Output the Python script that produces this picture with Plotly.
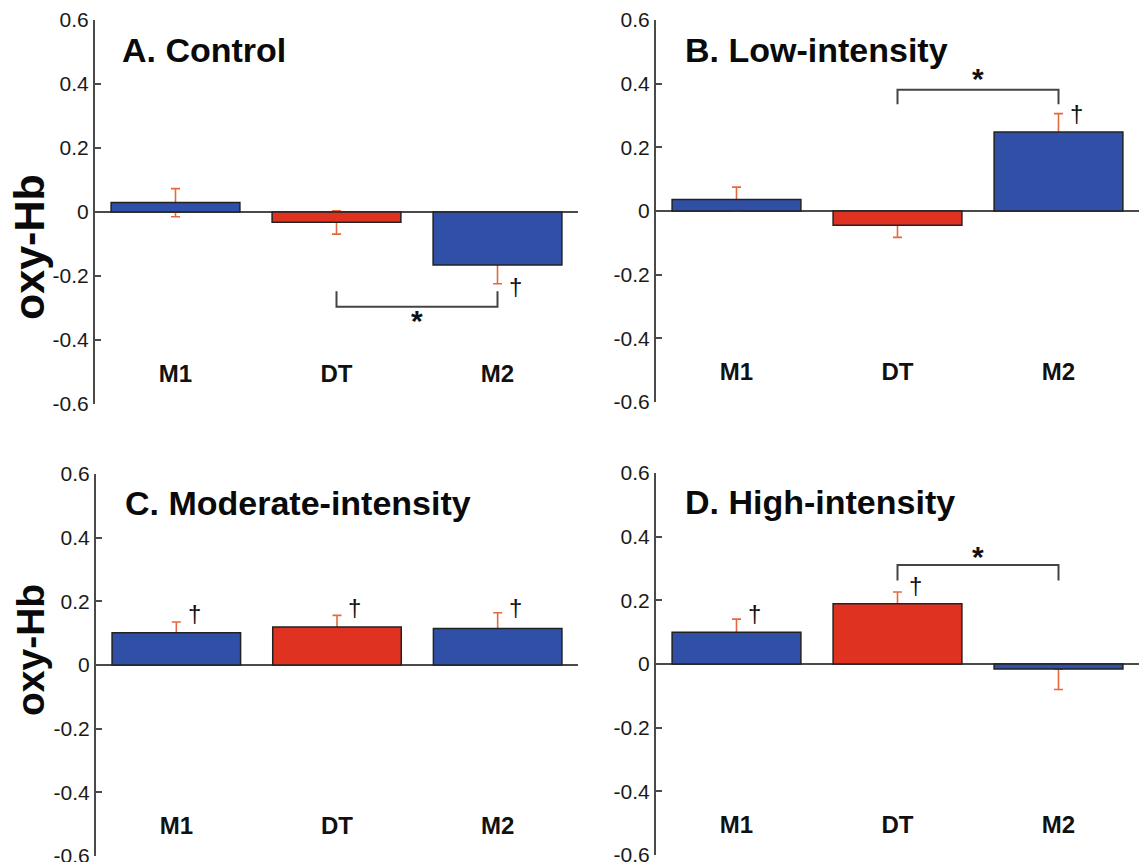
import plotly.graph_objects as go

# ---------------- data ----------------
categories = ["M1", "DT", "M2"]
bar_colors = ["#3050A8", "#E03220", "#3050A8"]

panel_titles = ["A. Control", "B. Low-intensity", "C. Moderate-intensity", "D. High-intensity"]

values_A = [0.030, -0.032, -0.166]
err_up_A = [0.043, 0.036, 0.058]
err_dn_A = [0.045, 0.037, 0.058]

values_B = [0.036, -0.045, 0.248]
err_up_B = [0.039, 0.038, 0.058]
err_dn_B = [0.036, 0.038, 0.058]

values_C = [0.101, 0.119, 0.115]
err_up_C = [0.034, 0.037, 0.049]
err_dn_C = [0.034, 0.037, 0.049]

values_D = [0.100, 0.189, -0.016]
err_up_D = [0.041, 0.037, 0.0]
err_dn_D = [0.041, 0.037, 0.064]

# dagger marks: (category index, y level)
daggers_A = [(2, -0.233)]
daggers_B = [(2, 0.307)]
daggers_C = [(0, 0.162), (1, 0.181), (2, 0.181)]
daggers_D = [(0, 0.159), (1, 0.248)]

# significance brackets: (from idx, to idx, bar level, leg end level, star level)
brackets_A = [(1, 2, -0.296, -0.248, -0.340)]
brackets_B = [(1, 2, 0.381, 0.335, 0.415)]
brackets_C = []
brackets_D = [(1, 2, 0.311, 0.262, 0.337)]

ytick_vals = [-0.6, -0.4, -0.2, 0, 0.2, 0.4, 0.6]
ytick_text = ["-0.6", "-0.4", "-0.2", "0", "0.2", "0.4", "0.6"]
cat_label_level = -0.512
y_label = "oxy-Hb"

# ---------------- layout geometry (pixels in the target picture) ----------------
W, H = 1147, 862
OFF = 8  # page body margin offset
panel_px = [
    dict(x0=95, x1=578, y0=20, y1=404),
    dict(x0=656, x1=1139, y0=20, y1=402),
    dict(x0=96, x1=578, y0=474, y1=856),
    dict(x0=656, x1=1139, y0=473, y1=855),
]
title_px = [(120, 50), (683, 50), (123, 503), (683, 502)]


def fx(p):
    return (p - OFF) / W


def fy(p):
    return 1 - (p - OFF) / H


AXIS_COLOR = "#4a4a4a"
ERR_COLOR = "#E5693F"
FONT = "Liberation Sans, Arial, sans-serif"

panels = [
    (values_A, err_up_A, err_dn_A, daggers_A, brackets_A),
    (values_B, err_up_B, err_dn_B, daggers_B, brackets_B),
    (values_C, err_up_C, err_dn_C, daggers_C, brackets_C),
    (values_D, err_up_D, err_dn_D, daggers_D, brackets_D),
]

fig = go.Figure()
annotations = []
layout_axes = {}

for i, (vals, eup, edn, dags, bracks) in enumerate(panels):
    n = i + 1
    xa = "x" if n == 1 else f"x{n}"
    ya = "y" if n == 1 else f"y{n}"
    # invisible bars carrying the error bars (drawn first -> behind real bars)
    fig.add_trace(go.Bar(
        x=categories, y=vals, xaxis=xa, yaxis=ya,
        marker=dict(color="rgba(0,0,0,0)", line=dict(width=0)),
        error_y=dict(type="data", symmetric=False, array=eup, arrayminus=edn,
                     color=ERR_COLOR, thickness=1.6, width=4.5),
        showlegend=False, hoverinfo="skip"))
    fig.add_trace(go.Bar(
        x=categories, y=vals, xaxis=xa, yaxis=ya,
        marker=dict(color=bar_colors, line=dict(color="#222222", width=1.5)),
        showlegend=False))
    # category labels
    fig.add_trace(go.Scatter(
        x=categories, y=[cat_label_level] * len(categories), xaxis=xa, yaxis=ya,
        mode="text", text=categories,
        textfont=dict(family=FONT, size=24, color="#111111", weight="bold"),
        showlegend=False, hoverinfo="skip"))
    # brackets
    for (a, b, lvl, leg, star) in bracks:
        fig.add_trace(go.Scatter(
            x=[categories[a], categories[a], categories[b], categories[b]],
            y=[leg, lvl, lvl, leg], xaxis=xa, yaxis=ya,
            mode="lines", line=dict(color="#444444", width=2),
            showlegend=False, hoverinfo="skip"))
        annotations.append(dict(
            x=(a + b) / 2, y=star, xref=xa, yref=ya, text="*", showarrow=False,
            font=dict(family=FONT, size=30, color="#111111", weight="bold"),
            xanchor="center", yanchor="middle"))
    for (ci, lvl) in dags:
        annotations.append(dict(
            x=ci + 0.11, y=lvl, xref=xa, yref=ya, text="†", showarrow=False,
            font=dict(family=FONT, size=24, color="#111111"),
            xanchor="center", yanchor="middle"))

    p = panel_px[i]
    xkey = "xaxis" if n == 1 else f"xaxis{n}"
    ykey = "yaxis" if n == 1 else f"yaxis{n}"
    layout_axes[xkey] = dict(
        domain=[fx(p["x0"]), fx(p["x1"])], anchor=ya, range=[-0.5, 2.5],
        showticklabels=False, showline=False, ticks="", showgrid=False, zeroline=False,
        type="category", fixedrange=True, automargin=False)
    layout_axes[ykey] = dict(
        domain=[fy(p["y1"]), fy(p["y0"])], anchor=xa, range=[-0.6, 0.6],
        tickvals=ytick_vals, ticktext=ytick_text,
        showline=True, linecolor=AXIS_COLOR, linewidth=2,
        ticks="inside", ticklen=6, tickwidth=2, tickcolor=AXIS_COLOR,
        zeroline=True, zerolinecolor=AXIS_COLOR, zerolinewidth=2,
        showgrid=False, tickfont=dict(family=FONT, size=21, color="#1a1a1a"),
        fixedrange=True, automargin=False)

    tx, ty = title_px[i]
    annotations.append(dict(
        x=fx(tx), y=fy(ty), xref="paper", yref="paper", text=panel_titles[i],
        showarrow=False, xanchor="left", yanchor="middle",
        font=dict(family=FONT, size=34, color="#0a0a0a", weight="bold")))

# y-axis titles
annotations.append(dict(x=fx(29), y=fy(247), xref="paper", yref="paper", text=y_label,
                        textangle=-90, showarrow=False, xanchor="center", yanchor="middle",
                        font=dict(family=FONT, size=43, color="#0a0a0a", weight="bold")))
annotations.append(dict(x=fx(30), y=fy(650), xref="paper", yref="paper", text=y_label,
                        textangle=-90, showarrow=False, xanchor="center", yanchor="middle",
                        font=dict(family=FONT, size=39, color="#0a0a0a", weight="bold")))

fig.update_layout(
    width=W, height=H, margin=dict(l=0, r=0, t=0, b=0, autoexpand=False),
    paper_bgcolor="white", plot_bgcolor="white",
    barmode="overlay", bargap=0.2,
    annotations=annotations, showlegend=False,
    **layout_axes)

fig.write_html("out.html", config={"displayModeBar": False})
